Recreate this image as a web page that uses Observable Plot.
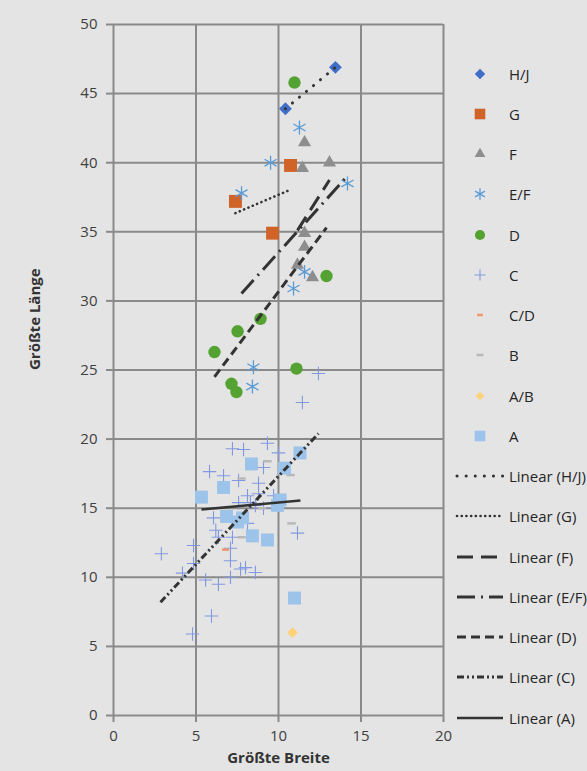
<!DOCTYPE html>
<html><head><meta charset="utf-8">
<script src="https://cdn.jsdelivr.net/npm/d3@7"></script>
<script src="https://cdn.jsdelivr.net/npm/@observablehq/plot@0.6"></script>
<style>
html,body{margin:0;padding:0;background:#e4e4e4;}
#wrap{position:relative;width:587px;height:771px;overflow:hidden;font-family:"Open Sans",sans-serif;}
.lg{position:absolute;left:452px;height:24px;display:flex;align-items:center;white-space:nowrap;font-size:15px;color:#262626;}
.lg span{margin-left:3px;}
</style></head><body><div id="wrap"></div>
<script>
// ---- data ----
const hjX = [10.42, 13.45];
const hjY = [43.9, 46.9];
const gX = [7.39, 10.73, 9.64];
const gY = [37.2, 39.8, 34.9];
const fX = [11.58, 13.09, 11.45, 11.58, 11.58, 11.15, 12.06];
const fY = [41.46, 40.0, 39.6, 34.9, 33.9, 32.6, 31.7];
const efX = [11.27, 9.52, 7.76, 14.18, 11.58, 10.91, 8.48, 8.42];
const efY = [42.55, 40.0, 37.8, 38.5, 32.1, 30.9, 25.2, 23.8];
const dX = [10.97, 12.91, 8.91, 7.52, 6.12, 11.09, 7.15, 7.45];
const dY = [45.8, 31.8, 28.7, 27.8, 26.3, 25.1, 24.0, 23.4];
const cX = [12.42, 11.45, 9.33, 7.21, 7.88, 10.0, 5.82, 6.67, 9.09, 7.58, 8.79, 8.12, 8.79, 9.7, 7.58, 8.30, 8.6, 9.09, 6.06, 8.12, 11.15, 7.21, 6.36, 4.85, 2.9, 7.09, 7.09, 4.85, 4.18, 5.58, 6.36, 7.09, 7.7, 8.0, 8.6, 5.94, 4.79, 6.2];
const cY = [24.75, 22.65, 19.7, 19.3, 19.25, 19.0, 17.65, 17.35, 17.95, 17.0, 16.8, 15.9, 16.05, 15.9, 15.4, 15.4, 15.2, 15.0, 14.3, 13.9, 13.2, 12.9, 12.9, 12.3, 11.7, 12.1, 11.2, 11.0, 10.3, 9.8, 9.5, 10.0, 10.6, 10.7, 10.35, 7.2, 5.9, 13.4];
const cdX = [6.79];
const cdY = [12.0];
const bX = [9.33, 7.76, 10.73, 10.79, 7.76, 9.0];
const bY = [18.4, 17.15, 17.4, 13.9, 12.9, 15.0];
const abX = [10.85];
const abY = [6.0];
const aX = [11.3, 8.36, 10.36, 6.67, 5.33, 10.1, 9.94, 6.85, 7.82, 7.52, 8.42, 9.33, 10.97];
const aY = [19.0, 18.2, 17.9, 16.5, 15.8, 15.6, 15.2, 14.4, 14.3, 14.0, 13.0, 12.7, 8.5];

// trendline end points
const trendNames = ["H/J", "G", "F", "E/F", "D", "C", "A"];
const trendX1 = [10.42, 7.39, 11.15, 7.76, 6.12, 2.85, 5.33];
const trendY1 = [43.9, 36.35, 35.1, 30.54, 24.5, 8.2, 14.9];
const trendX2 = [13.45, 10.73, 13.09, 14.18, 12.91, 12.42, 11.33];
const trendY2 = [46.9, 38.05, 38.75, 39.04, 35.3, 20.4, 15.56];

const xTicks = [0, 5, 10, 15, 20];
const yTicks = [0, 5, 10, 15, 20, 25, 30, 35, 40, 45, 50];
const xTitle = "Größte Breite";
const yTitle = "Größte Länge";

// ---- styles ----
const dashSym = {draw(ctx, size) { const r = Math.sqrt(size / Math.PI); ctx.moveTo(-r, 0); ctx.lineTo(r, 0); }};
const series = [
  {name: "H/J", x: hjX, y: hjY, symbol: "diamond2", d3sym: d3.symbolDiamond2, r: 5.8, fill: "#3f6fc9"},
  {name: "G", x: gX, y: gY, symbol: "square", d3sym: d3.symbolSquare, r: 7.3, fill: "#d06428"},
  {name: "F", x: fX, y: fY, symbol: "triangle", d3sym: d3.symbolTriangle, r: 4.9, fill: "#8e8e8e"},
  {name: "E/F", x: efX, y: efY, symbol: "asterisk", d3sym: d3.symbolAsterisk, r: 6.6, stroke: "#5b9bd5", sw: 1.3},
  {name: "D", x: dX, y: dY, symbol: "circle", d3sym: d3.symbolCircle, r: 6.2, fill: "#54a232"},
  {name: "C", x: cX, y: cY, symbol: "plus", d3sym: d3.symbolPlus, r: 4.4, stroke: "#8199e0", sw: 1.1},
  {name: "C/D", x: cdX, y: cdY, symbol: dashSym, d3sym: dashSym, r: 3.5, stroke: "#f4956a", sw: 2.5},
  {name: "B", x: bX, y: bY, symbol: dashSym, d3sym: dashSym, r: 4.2, stroke: "#b8b8b8", sw: 2.5},
  {name: "A/B", x: abX, y: abY, symbol: "diamond2", d3sym: d3.symbolDiamond2, r: 4.8, fill: "#ffd27a"},
  {name: "A", x: aX, y: aY, symbol: "square", d3sym: d3.symbolSquare, r: 7.3, fill: "#9cc3e9"}
];
const trendStyle = {
  "H/J": {dash: "0.1 9", cap: "round", w: 3},
  "G": {dash: "0.1 4.6", cap: "round", w: 2.6},
  "F": {dash: "16 8", cap: "butt", w: 3},
  "E/F": {dash: "18 6 2 6", cap: "butt", w: 3},
  "D": {dash: "9 5", cap: "butt", w: 3},
  "C": {dash: "7 3 2 3 2 3", cap: "butt", w: 3},
  "A": {dash: null, cap: "butt", w: 2.5}
};
const trendColor = "#333333";

const dotMarks = series.map(s => Plot.dot(s.x.map((v, i) => i), {
  x: i => s.x[i], y: i => s.y[i], symbol: s.symbol, r: s.r,
  fill: s.fill || "none", stroke: s.stroke || "none", strokeWidth: s.sw || 0
}));
const trendMarks = trendNames.map((n, k) => Plot.link([k], {
  x1: i => trendX1[i], y1: i => trendY1[i], x2: i => trendX2[i], y2: i => trendY2[i],
  stroke: trendColor, strokeWidth: trendStyle[n].w,
  strokeDasharray: trendStyle[n].dash || undefined, strokeLinecap: trendStyle[n].cap
}));

const chart = Plot.plot({
  width: 587, height: 771,
  marginLeft: 113, marginRight: 144, marginTop: 24, marginBottom: 56,
  style: {background: "transparent", fontFamily: "Open Sans, sans-serif", fontSize: "15px", color: "#404040", overflow: "visible"},
  x: {domain: [0, 20], label: null},
  y: {domain: [0, 50], label: null},
  marks: [
    Plot.gridX(xTicks, {stroke: "#8a8a8a", strokeOpacity: 1, strokeWidth: 2}),
    Plot.gridY(yTicks, {stroke: "#8a8a8a", strokeOpacity: 1, strokeWidth: 2}),
    Plot.axisX(xTicks, {tickSize: 7, tickPadding: 8, stroke: "#8a8a8a", strokeWidth: 2, label: null, fill: "#404040"}),
    Plot.axisY(yTicks, {tickSize: 7, tickPadding: 9, stroke: "#8a8a8a", strokeWidth: 2, label: null, fill: "#404040"}),
    ...dotMarks,
    ...trendMarks,
    Plot.text([xTitle], {text: d => d, frameAnchor: "bottom", dy: 47, fontWeight: "bold", fontSize: 15, fill: "#333"}),
    Plot.text([yTitle], {text: d => d, frameAnchor: "left", dx: -78, rotate: -90, fontWeight: "bold", fontSize: 15, fill: "#333"})
  ]
});
const wrap = document.getElementById("wrap");
wrap.append(chart);

// ---- legend ----
const rowTop = 73.5, rowStep = 40.25;
series.forEach((s, i) => {
  const row = d3.select(wrap).append("div").attr("class", "lg").style("top", (rowTop + i * rowStep - 12) + "px");
  const svg = row.append("svg").attr("width", 54).attr("height", 24);
  const rr = s.r * 0.82;
  svg.append("path")
    .attr("transform", "translate(28,12)")
    .attr("d", d3.symbol(s.d3sym, Math.PI * rr * rr)())
    .attr("fill", s.fill || "none").attr("stroke", s.stroke || "none").attr("stroke-width", s.sw || 0);
  row.append("span").text(s.name);
});
trendNames.forEach((n, k) => {
  const i = series.length + k;
  const row = d3.select(wrap).append("div").attr("class", "lg").style("top", (rowTop + i * rowStep - 12) + "px");
  const svg = row.append("svg").attr("width", 54).attr("height", 24);
  const st = trendStyle[n];
  svg.append("line").attr("x1", 5).attr("x2", 51).attr("y1", 12).attr("y2", 12)
    .attr("stroke", trendColor).attr("stroke-width", st.w)
    .attr("stroke-dasharray", st.dash).attr("stroke-linecap", st.cap);
  row.append("span").text("Linear (" + n + ")");
});
</script></body></html>
